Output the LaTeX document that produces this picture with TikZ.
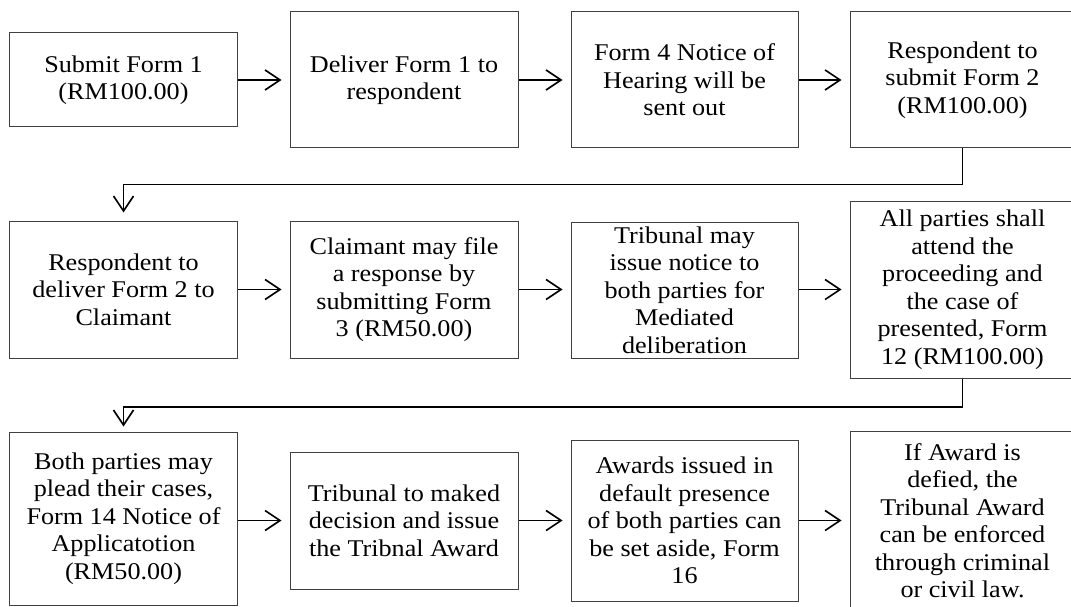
\documentclass[tikz,border=0pt]{standalone}
\usepackage{fontspec}
\setmainfont{Liberation Serif}[FakeStretch=1.09]
\usetikzlibrary{arrows.meta,calc}
\tikzset{
  box/.style={draw=black!75, line width=1pt, fill=white, inner sep=0pt, align=center,
    font=\fontsize{24}{27.5}\selectfont},
  arr/.style={draw=black, line width=1.6pt, -{Straight Barb[length=15pt,width=20pt]}},
}
\begin{document}
\begin{tikzpicture}[x=1pt,y=-1pt]
\useasboundingbox[fill=white] (0,0) rectangle (1071,607);
% row 1
\node[box, minimum width=228.4, minimum height=94] (b1) at (123.5,80) {Submit Form 1\\(RM100.00)};
\node[box, minimum width=228, minimum height=136] (b2) at (404,80) {Deliver Form 1 to\\respondent};
\node[box, minimum width=227, minimum height=136] (b3) at (684.5,80) {Form 4 Notice of\\Hearing will be\\sent out};
\node[box, minimum width=225, minimum height=136] (b4) at (962.5,80) {Respondent to\\submit Form 2\\(RM100.00)};
% row 2
\node[box, minimum width=228.4, minimum height=137] (b5) at (123.5,289.5) {Respondent to\\deliver Form 2 to\\Claimant};
\node[box, minimum width=228, minimum height=137] (b6) at (404,289.5) {Claimant may file\\a response by\\submitting Form\\3 (RM50.00)};
\node[box, minimum width=227, minimum height=136] (b7) at (684.5,290) {Tribunal may\\issue notice to\\both parties for\\Mediated\\deliberation};
\node[box, minimum width=225, minimum height=177] (b8) at (962.5,289.5) {All parties shall\\attend the\\proceeding and\\the case of\\presented, Form\\12 (RM100.00)};
% row 3
\node[box, minimum width=228.4, minimum height=173] (b9) at (123.5,518.5) {Both parties may\\plead their cases,\\Form 14 Notice of\\Applicatotion\\(RM50.00)};
\node[box, minimum width=228, minimum height=137] (b10) at (404,520.5) {Tribunal to maked\\decision and issue\\the Tribnal Award};
\node[box, minimum width=227, minimum height=161] (b11) at (684.5,520.5) {Awards issued in\\default presence\\of both parties can\\be set aside, Form\\16};
\node[box, minimum width=225, minimum height=179] (b12) at (962.5,520.5) {If Award is\\defied, the\\Tribunal Award\\can be enforced\\through criminal\\or civil law.};
% turning points
\coordinate (t1) at (0,184.5);
\coordinate (t2) at (0,407);
% arrows row 1
\draw[arr, shorten >=8pt] (b1.east) -- (b2.west);
\draw[arr, shorten >=8pt] (b2.east) -- (b3.west);
\draw[arr, shorten >=8pt] (b3.east) -- (b4.west);
% row 1 -> row 2
\draw[arr, shorten >=8pt] (b4.south) |- (t1 -| b5.north) -- (b5.north);
% arrows row 2
\draw[arr, shorten >=8pt] (b5.east) -- (b6.west);
\draw[arr, shorten >=8pt] (b6.east) -- (b6.east -| b7.west);
\draw[arr, shorten >=8pt] (b7.east |- b8.west) -- (b8.west);
% row 2 -> row 3
\draw[arr, shorten >=5pt] (b8.south) |- (t2 -| b9.north) -- (b9.north);
% arrows row 3
\draw[arr, shorten >=8pt] (b9.east |- b10.west) -- (b10.west);
\draw[arr, shorten >=8pt] (b10.east) -- (b11.west);
\draw[arr, shorten >=8pt] (b11.east) -- (b12.west);
\end{tikzpicture}
\end{document}
